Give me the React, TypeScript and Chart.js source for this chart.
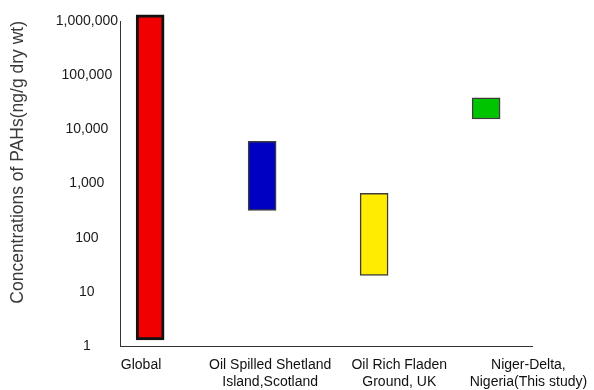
import React, { useEffect, useRef } from 'react';
import { Chart, registerables } from 'chart.js';

Chart.register(...registerables);

// ---- data ----
const categories: string[][] = [
  ['Global'],
  ['Oil Spilled Shetland', 'Island,Scotland'],
  ['Oil Rich Fladen', 'Ground, UK'],
  ['Niger-Delta,', 'Nigeria(This study)'],
];
const categoryIndex = [0, 1, 2, 3];
const lowValues = [1.3, 320, 20, 15500];
const highValues = [1300000, 6000, 660, 38000];
const yTickValues = [1, 10, 100, 1000, 10000, 100000, 1000000];
const yTitle = 'Concentrations of PAHs(ng/g dry wt)';

const barColors = ['#f00000', '#0000c2', '#ffec00', '#00c400'];
const barBorderColors = ['#111111', '#3c3c3c', '#3c3c3c', '#3c3c3c'];
const barBorderWidths = [3, 1.5, 1.5, 1.5];

const FONT = "'Liberation Sans', Arial, sans-serif";

export default function App() {
  const canvasRef = useRef<HTMLCanvasElement | null>(null);

  useEffect(() => {
    const canvas = canvasRef.current;
    if (!canvas) return;
    Chart.defaults.font.family = FONT;

    const data = categoryIndex.map((x, i) => ({ x, y: [lowValues[i], highValues[i]] }));

    const chart = new Chart(canvas, {
      type: 'bar',
      data: {
        datasets: [
          {
            data: data as any,
            backgroundColor: barColors,
            borderColor: barBorderColors,
            borderWidth: barBorderWidths,
            borderSkipped: false,
            barThickness: 28,
            clip: false,
            xAxisID: 'x',
            yAxisID: 'y',
          },
        ],
      },
      options: {
        animation: false,
        responsive: false,
        devicePixelRatio: 1,
        layout: { padding: { top: 21, right: 62, left: 0, bottom: 0 } },
        plugins: {
          legend: { display: false },
          tooltip: { enabled: false },
        },
        scales: {
          x: {
            type: 'linear',
            display: false,
            offset: false,
            grid: { offset: false },
            min: -0.269,
            max: 3.41,
          },
          xLabels: {
            type: 'linear',
            position: 'bottom',
            offset: false,
            min: -0.163,
            max: 3.028,
            grid: { display: false, drawTicks: false, offset: false },
            border: { display: true, color: '#333333', width: 1 },
            afterBuildTicks: (scale: any) => {
              scale.ticks = categoryIndex.map((v) => ({ value: v }));
            },
            afterFit: (scale: any) => {
              scale.height = 44;
              scale.paddingLeft = 0;
              scale.paddingRight = 0;
            },
            ticks: {
              autoSkip: false,
              maxRotation: 0,
              minRotation: 0,
              padding: 11,
              color: '#111111',
              font: { size: 14, family: FONT },
              callback: (value: any) => categories[Math.round(Number(value))] ?? '',
            },
          },
          y: {
            type: 'logarithmic',
            min: 1,
            max: 1000000,
            grid: { display: false, drawTicks: false },
            border: { display: true, color: '#333333', width: 1 },
            afterBuildTicks: (scale: any) => {
              scale.ticks = yTickValues.map((v) => ({ value: v }));
            },
            afterFit: (scale: any) => {
              scale.width = 120;
            },
            ticks: {
              crossAlign: 'center',
              padding: 2,
              color: '#1a1a1a',
              font: { size: 14, family: FONT },
              callback: (value: any) => Number(value).toLocaleString('en-US'),
            },
            title: {
              display: true,
              text: yTitle,
              align: 'end',
              color: '#3a3a3a',
              font: { size: 17.5, family: FONT },
              padding: { top: 8, bottom: 0 },
            },
          },
        },
      } as any,
    });

    return () => chart.destroy();
  }, []);

  return (
    <div style={{ position: 'fixed', left: 0, top: 0, width: 594, height: 390, background: '#ffffff' }}>
      <canvas ref={canvasRef} width={594} height={390} style={{ width: 594, height: 390, display: 'block' }} />
    </div>
  );
}
